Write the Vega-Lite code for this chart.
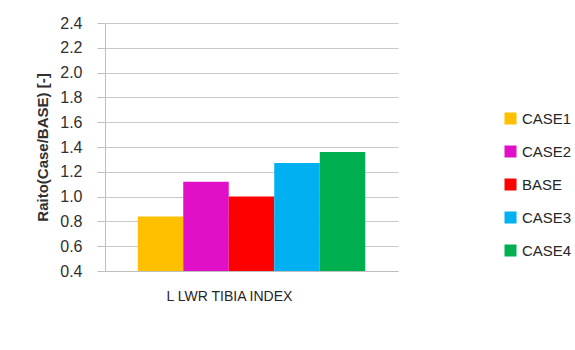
{
  "$schema": "https://vega.github.io/schema/vega-lite/v6.json",
  "autosize": {"type": "none"},
  "width": 293,
  "height": 248,
  "padding": {"left": 105, "top": 23, "right": 177, "bottom": 79},
  "background": "white",
  "data": {
    "values": [
      {"metric": "L LWR TIBIA INDEX", "case": "CASE1", "ratio": 0.84},
      {"metric": "L LWR TIBIA INDEX", "case": "CASE2", "ratio": 1.12},
      {"metric": "L LWR TIBIA INDEX", "case": "BASE", "ratio": 1.0},
      {"metric": "L LWR TIBIA INDEX", "case": "CASE3", "ratio": 1.27},
      {"metric": "L LWR TIBIA INDEX", "case": "CASE4", "ratio": 1.36}
    ]
  },
  "mark": {"type": "bar", "strokeWidth": 0},
  "encoding": {
    "x": {
      "field": "metric",
      "type": "nominal",
      "scale": {"paddingInner": 0, "paddingOuter": 0},
      "axis": {
        "labels": false,
        "ticks": false,
        "domainColor": "#bfbfbf",
        "title": "L LWR TIBIA INDEX",
        "titleX": 124,
        "titleFont": "Liberation Sans",
        "titleFontSize": 14,
        "titleFontWeight": "normal",
        "titleColor": "#262626",
        "titlePadding": 18
      }
    },
    "xOffset": {
      "field": "case",
      "type": "nominal",
      "sort": ["CASE1", "CASE2", "BASE", "CASE3", "CASE4"],
      "scale": {"paddingInner": 0, "paddingOuter": 0.72}
    },
    "y": {
      "field": "ratio",
      "type": "quantitative",
      "scale": {"domain": [0.4, 2.4], "zero": false, "nice": false},
      "axis": {
        "values": [0.4, 0.6, 0.8, 1.0, 1.2, 1.4, 1.6, 1.8, 2.0, 2.2, 2.4],
        "format": ".1f",
        "grid": true,
        "gridColor": "#c8c8c8",
        "gridWidth": 1,
        "domainColor": "#bfbfbf",
        "tickColor": "#bfbfbf",
        "tickSize": 8,
        "labelPadding": 15,
        "labelFont": "Liberation Sans",
        "labelFontSize": 16,
        "labelColor": "#303030",
        "title": "Raito(Case/BASE) [-]",
        "titleFont": "Liberation Sans",
        "titleFontSize": 15,
        "titleFontWeight": "bold",
        "titleColor": "#303030",
        "titlePadding": 9
      }
    },
    "y2": {"datum": 0.4},
    "color": {
      "field": "case",
      "type": "nominal",
      "scale": {
        "domain": ["CASE1", "CASE2", "BASE", "CASE3", "CASE4"],
        "range": ["#FFC000", "#E10FC8", "#FF0000", "#00B0F0", "#00B050"]
      },
      "legend": {
        "title": null,
        "orient": "none",
        "legendX": 398,
        "legendY": 88,
        "symbolType": "square",
        "symbolSize": 144,
        "symbolStrokeWidth": 0,
        "labelFont": "Liberation Sans",
        "labelFontSize": 15,
        "labelColor": "#262626",
        "labelOffset": 4,
        "rowPadding": 17
      }
    }
  },
  "config": {"view": {"stroke": null}}
}
